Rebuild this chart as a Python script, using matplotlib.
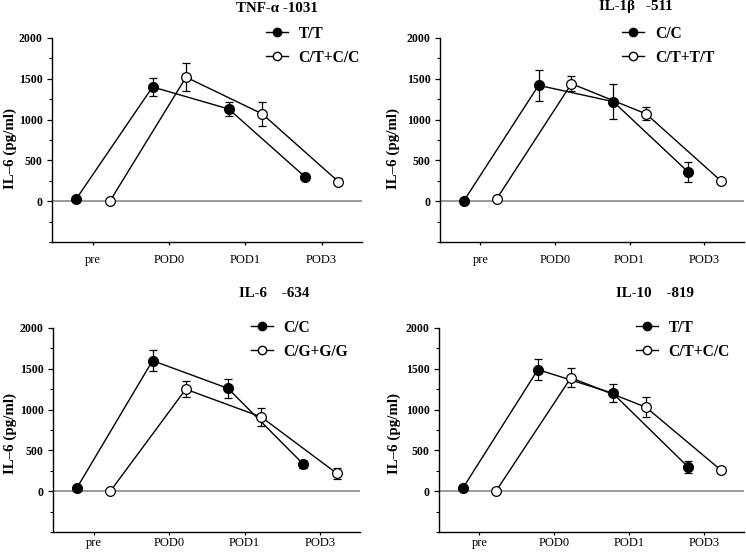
import matplotlib
matplotlib.use("Agg")
import matplotlib.pyplot as plt
from matplotlib.lines import Line2D
import numpy as np

plt.rcParams['font.family'] = ['Liberation Serif', 'DejaVu Serif']

categories = ["pre", "POD0", "POD1", "POD3"]

titles = ["TNF-\u03b1 -1031", "IL-1\u03b2   -511", "IL-6    -634", "IL-10    -819"]
labels_a = ["T/T", "C/C", "C/C", "T/T"]
labels_b = ["C/T+C/C", "C/T+T/T", "C/G+G/G", "C/T+C/C"]

tnf_a = [30, 1400, 1130, 300]
tnf_a_err = [0, 110, 90, 30]
tnf_b = [0, 1520, 1070, 240]
tnf_b_err = [0, 170, 150, 40]

il1_a = [5, 1420, 1220, 360]
il1_a_err = [0, 190, 215, 120]
il1_b = [30, 1440, 1070, 250]
il1_b_err = [0, 90, 80, 20]

il6_a = [45, 1600, 1260, 330]
il6_a_err = [0, 130, 115, 40]
il6_b = [0, 1250, 910, 220]
il6_b_err = [0, 95, 110, 70]

il10_a = [40, 1490, 1200, 300]
il10_a_err = [0, 130, 110, 75]
il10_b = [0, 1390, 1030, 260]
il10_b_err = [0, 115, 120, 30]

series_a = [tnf_a, il1_a, il6_a, il10_a]
series_a_err = [tnf_a_err, il1_a_err, il6_a_err, il10_a_err]
series_b = [tnf_b, il1_b, il6_b, il10_b]
series_b_err = [tnf_b_err, il1_b_err, il6_b_err, il10_b_err]

W, H = 746, 553
fig = plt.figure(figsize=(W / 100, H / 100), dpi=100)

boxes = [(52, 362, 38, 242), (440, 744, 38, 242), (53, 360, 328, 532), (439, 744, 328, 532)]
leg_pos = [(0.69, 1.06), (0.60, 1.06), (0.645, 1.04), (0.645, 1.04)]
title_pos = [(0.726, 1.147), (0.645, 1.152), (0.72, 1.167), (0.708, 1.167)]
ylab_pos = [(-0.113, 0.46), (-0.13, 0.46), (-0.116, 0.485), (-0.126, 0.485)]
xpads = [6.5, 6.5, 1.5, 1.5]

x = np.arange(len(categories))
off = 0.22

for i in range(4):
    l, r, t, b = boxes[i]
    ax = fig.add_axes([l / W, 1 - b / H, (r - l) / W, (b - t) / H])
    ax.axhline(0, color='#7f7f7f', lw=1.1, zorder=1)
    ax.errorbar(x - off, series_a[i], yerr=series_a_err[i], color='black', lw=1.0,
                marker='o', ms=7, mfc='black', mec='black', capsize=2.8, elinewidth=0.9,
                capthick=0.9, label=labels_a[i], zorder=3)
    ax.errorbar(x + off, series_b[i], yerr=series_b_err[i], color='black', lw=1.0,
                marker='o', ms=7, mfc='white', mec='black', mew=0.9, capsize=2.8,
                elinewidth=0.9, capthick=0.9, label=labels_b[i], zorder=3)
    ax.set_xlim(-0.54, 3.53)
    ax.set_ylim(-500, 2000)
    ax.set_yticks([0, 500, 1000, 1500, 2000])
    ax.set_yticks(np.arange(-500, 2001, 250), minor=True)
    ax.set_xticks(x)
    ax.set_xticklabels(categories, fontsize=9)
    for lab in ax.get_yticklabels():
        lab.set_fontweight('bold')
        lab.set_fontsize(8.5)
    ax.tick_params(axis='y', which='major', length=3.6, width=0.9, pad=3)
    ax.tick_params(axis='y', which='minor', length=2.2, width=0.8)
    ax.tick_params(axis='x', which='major', length=2, width=0.9, pad=xpads[i])
    for s in ['top', 'right']:
        ax.spines[s].set_visible(False)
    for s in ['left', 'bottom']:
        ax.spines[s].set_linewidth(1.0)
    ax.set_ylabel("IL\u20136 (pg/ml)", fontsize=10.8, fontweight='bold')
    ax.yaxis.set_label_coords(*ylab_pos[i])
    ax.text(title_pos[i][0], title_pos[i][1], titles[i], transform=ax.transAxes,
            ha='center', va='center', fontsize=10.8, fontweight='bold')
    h1 = Line2D([], [], color='black', lw=1.0, marker='o', ms=6, mfc='black', mec='black')
    h2 = Line2D([], [], color='black', lw=1.0, marker='o', ms=6, mfc='white', mec='black')
    ax.legend([h1, h2], [labels_a[i], labels_b[i]], loc='upper left',
              bbox_to_anchor=leg_pos[i], frameon=False, borderpad=0,
              borderaxespad=0, handlelength=1.4, handletextpad=0.7,
              labelspacing=0.5, prop={'weight': 'bold', 'size': 11.2})

fig.savefig("out.png", dpi=100)
